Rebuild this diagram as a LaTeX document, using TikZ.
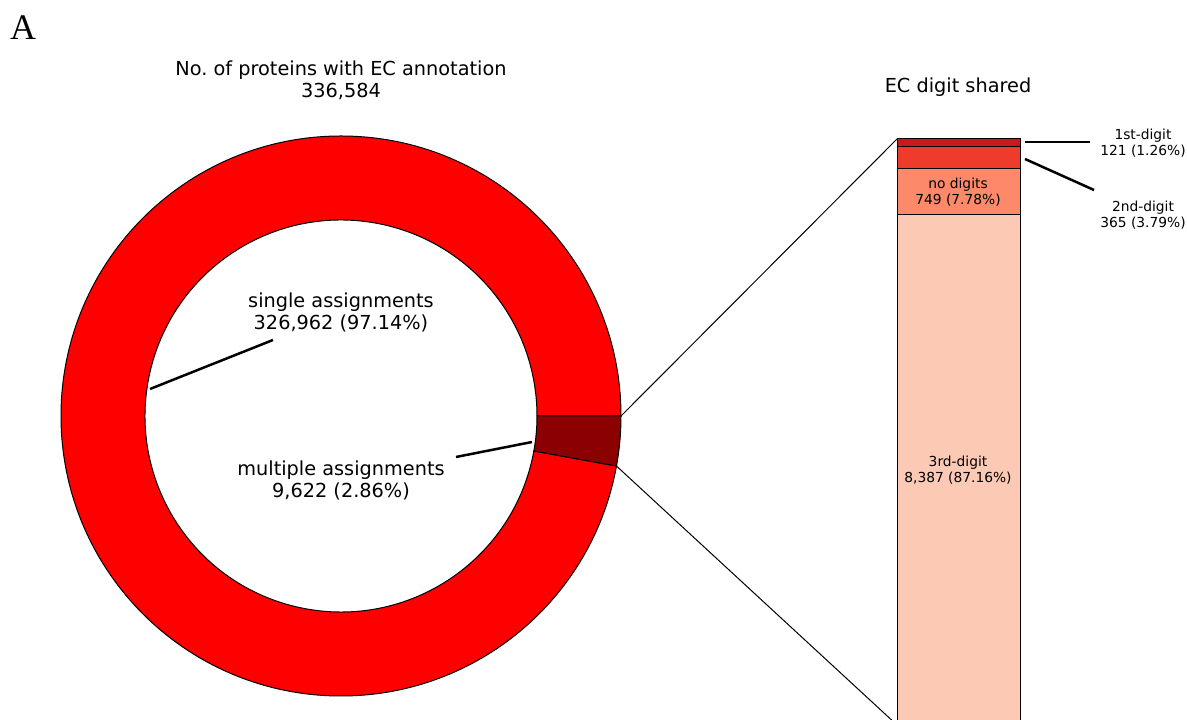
\documentclass[tikz,border=0pt]{standalone}
\usepackage{fontspec}
\setmainfont{DejaVu Sans}
\newfontfamily\panelfont{Liberation Serif}
\definecolor{ringred}{HTML}{FF0000}
\definecolor{wedgered}{HTML}{8B0000}
\definecolor{segone}{HTML}{CB181D}
\definecolor{segtwo}{HTML}{EF3B2C}
\definecolor{segnone}{HTML}{FC8A6A}
\definecolor{segthree}{HTML}{FCC9B4}
\frenchspacing
\begin{document}
\begin{tikzpicture}[x=1pt,y=1pt,
  bigtext/.style={font=\fontsize{19.3}{22}\selectfont,align=center},
  smalltext/.style={font=\fontsize{13.8}{16}\selectfont,align=center},
  edge/.style={draw=black,line width=1pt},
  pointer/.style={draw=black,line width=2.5pt},
  zoomline/.style={draw=black,line width=1pt}]
\useasboundingbox (0,0) rectangle (1187,720);
\clip (0,0) rectangle (1187,720);

% panel letter
\node (panel) at (23,692) {\panelfont\fontsize{36}{40}\selectfont A};

% donut chart
\begin{scope}[shift={(341,304)}]
  \filldraw[fill=ringred,edge] (0:280) arc[start angle=0,end angle=349.704,radius=280]
    -- (349.704:196) arc[start angle=349.704,end angle=0,radius=196] -- cycle;
  \filldraw[fill=wedgered,edge] (0:280) arc[start angle=0,end angle=-10.296,radius=280]
    -- (-10.296:196) arc[start angle=-10.296,end angle=0,radius=196] -- cycle;
  \coordinate (wedgetop) at (0:280);
  \coordinate (wedgebot) at (-10.296:280);
\end{scope}

\node[bigtext] (title) at (341,639.5) {No. of proteins with EC annotation\\336,584};
\node[bigtext] (single) at (341,407.5) {single assignments\\326,962 (97.14\%)};
\node[bigtext] (multiple) at (341,239.5) {multiple assignments\\9,622 (2.86\%)};

\coordinate (singletip) at (150,331);
\coordinate (singletail) at (273,380);
\coordinate (multitip) at (532,278);
\coordinate (multitail) at (456,263);
\draw[pointer] (singletail) -- (singletip);
\draw[pointer] (multitail) -- (multitip);

% stacked bar
\filldraw[fill=segthree,edge] (897,-9) rectangle (1020,505.2);
\filldraw[fill=segnone,edge] (897,505.2) rectangle (1020,551.1);
\filldraw[fill=segtwo,edge] (897,551.1) rectangle (1020,573.5);
\filldraw[fill=segone,edge] (897,573.5) rectangle (1020,581);
\coordinate (bartop) at (897,581);
\coordinate (barbot) at (897,-5);

\draw[zoomline] (wedgetop) -- (bartop);
\draw[zoomline] (wedgebot) -- (barbot);

\node[bigtext] (bartitle) at (958,632.5) {EC digit shared};
\node[smalltext] (nodigits) at (958,528) {no digits\\749 (7.78\%)};
\node[smalltext] (third) at (958,250) {3rd-digit\\8,387 (87.16\%)};
\node[smalltext] (first) at (1143,577) {1st-digit\\121 (1.26\%)};
\node[smalltext] (second) at (1143,505) {2nd-digit\\365 (3.79\%)};

\coordinate (firsttip) at (1025,578);
\coordinate (firsttail) at (1090,578);
\coordinate (secondtip) at (1025,561);
\coordinate (secondtail) at (1094,530);
\draw[pointer] (firsttail) -- (firsttip);
\draw[pointer] (secondtail) -- (secondtip);
\end{tikzpicture}
\end{document}
